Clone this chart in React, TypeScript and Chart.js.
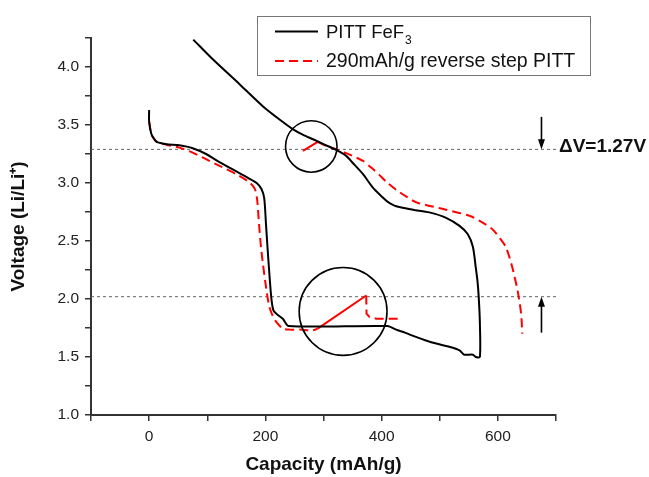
import React, { useEffect, useRef } from "react";
import { Chart, registerables } from "chart.js";
Chart.register(...registerables);

// ---- data (capacity mAh/g, voltage V) ----
const pittCap = [0, 0, 4, 10, 15, 30, 52, 75, 98, 121, 150, 170, 185, 193, 198, 201, 204, 210, 214, 222, 230, 240, 410, 425, 440, 459, 475, 494, 515, 534, 542, 557, 562, 569, 569, 567, 565, 562, 557, 548, 534, 511, 482, 454, 425, 410, 402, 385, 368, 350, 339, 322, 300, 282, 265, 247, 225, 196, 156, 110, 76];
const pittVolt = [3.63, 3.53, 3.42, 3.37, 3.35, 3.335, 3.325, 3.3, 3.25, 3.18, 3.1, 3.045, 3.0, 2.95, 2.87, 2.65, 2.42, 2.02, 1.9, 1.86, 1.83, 1.767, 1.767, 1.736, 1.71, 1.673, 1.645, 1.616, 1.59, 1.558, 1.52, 1.52, 1.5, 1.5, 1.8, 2.02, 2.15, 2.27, 2.45, 2.56, 2.63, 2.7, 2.747, 2.77, 2.8, 2.84, 2.875, 2.96, 3.076, 3.175, 3.234, 3.285, 3.335, 3.377, 3.415, 3.465, 3.545, 3.66, 3.85, 4.064, 4.236];

const revDisCap = [0, 4, 10, 15, 30, 52, 75, 98, 121, 150, 173, 182, 186, 189, 193, 202, 207, 213, 219, 230, 242, 259, 282, 290];
const revDisVolt = [3.53, 3.42, 3.37, 3.35, 3.33, 3.305, 3.262, 3.205, 3.148, 3.076, 3.004, 2.947, 2.85, 2.65, 2.42, 2.07, 1.93, 1.85, 1.8, 1.745, 1.736, 1.736, 1.73, 1.745];

const revStepLowCap = [290, 373.5];
const revStepLowVolt = [1.745, 2.03];

const revTailCap = [373.5, 374, 379, 391, 411, 434];
const revTailVolt = [2.03, 1.874, 1.845, 1.83, 1.83, 1.83];

const revStepHighCap = [264.6, 290];
const revStepHighVolt = [3.277, 3.354];

const revChgCap = [290, 305, 322, 340, 368, 385, 396, 408, 431, 460, 485, 511, 551, 568, 591, 604, 614, 625, 634, 640, 642];
const revChgVolt = [3.354, 3.32, 3.29, 3.255, 3.19, 3.12, 3.07, 3.01, 2.92, 2.833, 2.8, 2.77, 2.718, 2.675, 2.6, 2.52, 2.446, 2.27, 2.07, 1.874, 1.7];

const refLevels = [3.29, 2.02];
const refRange = [-100, 700];

const circleCap = [279, 333.7];
const circleVolt = [3.315, 1.893];
const circleRadiusCap = [44.3, 75.6];

const arrowCap = 675;
const arrowFrom = [3.57, 1.71];
const arrowTo = [3.29, 2.02];

const deltaLabel = "\u0394V=1.27V";
const legendLabels = ["PITT FeF", "290mAh/g reverse step PITT"];
const legendSub = "3";

const xTickLabels = [0, 200, 400, 600];

const FONT = "'Liberation Sans', Arial, Helvetica, sans-serif";
const RED = "#ff0000";
const DASH = [9, 5];

const pts = (xs: number[], ys: number[]) => xs.map((x, i) => ({ x, y: ys[i] }));

const overlayPlugin = {
  id: "overlay",
  afterDatasetsDraw(chart: any) {
    const ctx = chart.ctx as CanvasRenderingContext2D;
    const xs = chart.scales.x;
    const ys = chart.scales.y;
    const area = chart.chartArea;
    ctx.save();
    // circles
    ctx.strokeStyle = "#000";
    ctx.lineWidth = 1.6;
    for (let i = 0; i < circleCap.length; i++) {
      const cx = xs.getPixelForValue(circleCap[i]);
      const cy = ys.getPixelForValue(circleVolt[i]);
      const r = xs.getPixelForValue(circleCap[i] + circleRadiusCap[i]) - cx;
      ctx.beginPath();
      ctx.arc(cx, cy, r, 0, Math.PI * 2);
      ctx.stroke();
    }
    // arrows
    const ax = xs.getPixelForValue(arrowCap);
    for (let i = 0; i < arrowFrom.length; i++) {
      const y0 = ys.getPixelForValue(arrowFrom[i]);
      const y1 = ys.getPixelForValue(arrowTo[i]);
      const dir = y1 > y0 ? 1 : -1;
      ctx.strokeStyle = "#000";
      ctx.lineWidth = 1.6;
      ctx.beginPath();
      ctx.moveTo(ax, y0);
      ctx.lineTo(ax, y1 - dir * 6);
      ctx.stroke();
      ctx.fillStyle = "#000";
      ctx.beginPath();
      ctx.moveTo(ax, y1);
      ctx.lineTo(ax - 3.5, y1 - dir * 10);
      ctx.lineTo(ax + 3.5, y1 - dir * 10);
      ctx.closePath();
      ctx.fill();
    }
    // delta V label
    ctx.fillStyle = "#111";
    ctx.font = `bold 19px ${FONT}`;
    ctx.textBaseline = "middle";
    ctx.textAlign = "left";
    ctx.fillText(deltaLabel, area.right + 3, ys.getPixelForValue(refLevels[0]) - 3);

    // legend
    const lx = 257.5, ly = 16.5, lw = 333, lh = 59;
    ctx.fillStyle = "#fff";
    ctx.fillRect(lx, ly, lw, lh);
    ctx.strokeStyle = "#777";
    ctx.lineWidth = 1;
    ctx.strokeRect(lx, ly, lw, lh);
    const rows = [31.5, 61];
    ctx.lineWidth = 2;
    ctx.strokeStyle = "#000";
    ctx.setLineDash([]);
    ctx.beginPath();
    ctx.moveTo(275, rows[0]);
    ctx.lineTo(318, rows[0]);
    ctx.stroke();
    ctx.strokeStyle = RED;
    ctx.setLineDash(DASH);
    ctx.beginPath();
    ctx.moveTo(275, rows[1]);
    ctx.lineTo(318, rows[1]);
    ctx.stroke();
    ctx.setLineDash([]);
    ctx.fillStyle = "#111";
    ctx.font = `18.5px ${FONT}`;
    ctx.textBaseline = "middle";
    ctx.fillText(legendLabels[0], 326, rows[0] + 1);
    const w = ctx.measureText(legendLabels[0]).width;
    ctx.font = `12px ${FONT}`;
    ctx.fillText(legendSub, 326 + w + 1, rows[0] + 9);
    ctx.font = `19.5px ${FONT}`;
    ctx.fillText(legendLabels[1], 326, rows[1] + 1);
    ctx.restore();
  },
};

export default function App() {
  const ref = useRef<HTMLCanvasElement | null>(null);
  useEffect(() => {
    if (!ref.current) return;
    const base = { fill: false, pointRadius: 0, tension: 0.25 };
    const chart = new Chart(ref.current, {
      type: "line",
      data: {
        datasets: [
          { ...base, label: "PITT FeF3", data: pts(pittCap, pittVolt), borderColor: "#000", borderWidth: 2 },
          { ...base, label: "step low", data: pts(revStepLowCap, revStepLowVolt), borderColor: RED, borderWidth: 2, tension: 0 },
          { ...base, label: "step high", data: pts(revStepHighCap, revStepHighVolt), borderColor: RED, borderWidth: 2, tension: 0 },
          { ...base, label: "290mAh/g reverse step PITT", data: pts(revDisCap, revDisVolt), borderColor: RED, borderWidth: 2, borderDash: DASH },
          { ...base, label: "tail", data: pts(revTailCap, revTailVolt), borderColor: RED, borderWidth: 2, borderDash: DASH, tension: 0 },
          { ...base, label: "charge", data: pts(revChgCap, revChgVolt), borderColor: RED, borderWidth: 2, borderDash: DASH },
          ...refLevels.map((v) => ({
            ...base,
            tension: 0,
            label: "ref",
            data: refRange.map((x) => ({ x, y: v })),
            borderColor: "#666",
            borderWidth: 1,
            borderDash: [3, 3],
          })),
        ],
      },
      options: {
        responsive: false,
        animation: false,
        layout: { padding: { top: 38, right: 93, left: 0, bottom: 0 } },
        plugins: { legend: { display: false }, tooltip: { enabled: false } },
        scales: {
          x: {
            type: "linear",
            min: -100,
            max: 700,
            afterFit: (s: any) => { s.height = 62; },
            ticks: {
              stepSize: 100,
              autoSkip: false,
              maxRotation: 0,
              padding: 6,
              color: "#222",
              font: { family: FONT, size: 15.5 },
              callback: (v: any) => (xTickLabels.includes(Number(v)) ? String(v) : ""),
            },
            grid: { drawOnChartArea: false, drawTicks: true, tickLength: 6, color: "#333", lineWidth: 1.5 },
            border: { color: "#333", width: 2 },
            title: {
              display: true,
              text: "Capacity (mAh/g)",
              color: "#111",
              font: { family: FONT, size: 19, weight: "bold" },
              padding: { top: 0, bottom: 1 },
            },
          },
          y: {
            type: "linear",
            min: 1,
            max: 4.25,
            afterFit: (s: any) => { s.width = 91; },
            ticks: {
              stepSize: 0.25,
              autoSkip: false,
              padding: 6,
              color: "#222",
              font: { family: FONT, size: 15.5 },
              callback: (v: any) => {
                const n = Number(v);
                return Math.abs(n * 2 - Math.round(n * 2)) < 1e-6 ? n.toFixed(1) : "";
              },
            },
            grid: { drawOnChartArea: false, drawTicks: true, tickLength: 6, color: "#333", lineWidth: 1.5 },
            border: { color: "#333", width: 2 },
            title: {
              display: true,
              text: "Voltage (Li/Li\u207A)",
              color: "#111",
              font: { family: FONT, size: 19, weight: "bold" },
              padding: { top: 7, bottom: 0 },
            },
          },
        },
      },
      plugins: [overlayPlugin],
    } as any);
    return () => chart.destroy();
  }, []);
  return (
    <div style={{ position: "fixed", left: 0, top: 0, width: 649, height: 477, background: "#fff" }}>
      <canvas ref={ref} width={649} height={477} style={{ display: "block" }} />
    </div>
  );
}
